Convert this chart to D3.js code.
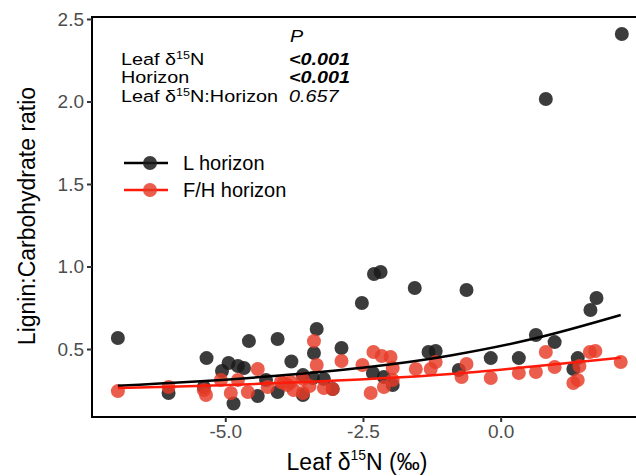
<!DOCTYPE html>
<html>
<head>
<meta charset="utf-8">
<script src="https://cdn.jsdelivr.net/npm/d3@7"></script>
<style>
  body { margin: 0; background: #fff; }
  text { font-family: "Liberation Sans", Arial, sans-serif; }
</style>
</head>
<body>
<svg width="636" height="476"></svg>
<script>
// L horizon (black) points: leaf d15N, ratio
const lX = [-6.95, 2.20, 0.82, -2.52, -2.30, -2.18, -1.56, -0.62, 1.74, 1.63, -4.57, -4.05, -3.34, -2.89, -3.39,
  -5.34, -4.94, -4.77, -4.66, -5.06, -6.03, -5.39, -4.85, -4.41, -4.05, -4.26, -3.80, -3.59, -3.41, -3.21,
  -3.05, -2.32, -2.12, -1.96, -1.31, -1.18, -3.59, -0.76, -0.18, 0.33, 0.64, 0.98, 1.40, 1.32];
const lY = [0.567, 2.409, 2.015, 0.779, 0.955, 0.967, 0.870, 0.858, 0.809, 0.736, 0.548, 0.561, 0.621, 0.506, 0.476,
  0.445, 0.415, 0.397, 0.385, 0.367, 0.233, 0.270, 0.170, 0.215, 0.239, 0.312, 0.424, 0.342, 0.324, 0.318,
  0.258, 0.355, 0.330, 0.282, 0.482, 0.488, 0.221, 0.373, 0.445, 0.445, 0.585, 0.542, 0.445, 0.379];

// F/H horizon (red) points
const fX = [-6.95, -6.03, -5.35, -5.39, -5.08, -4.77, -4.90, -4.59, -4.41, -4.23, -3.99, -3.87, -3.39, -3.34, -2.89,
  -2.51, -2.31, -2.16, -2.00, -1.96, -1.96, -2.12, -2.36, -1.54, -1.27, -1.18, -3.59, -3.81, -3.94, -3.76,
  -3.47, -3.21, -3.05, -3.59, 0.82, -0.62, -0.71, -0.18, 0.33, 0.64, 0.98, 1.43, 1.62, 1.72, 2.18, 1.32, 1.40];
const fY = [0.245, 0.270, 0.221, 0.252, 0.312, 0.312, 0.233, 0.239, 0.379, 0.270, 0.300, 0.282, 0.548, 0.403, 0.427,
  0.403, 0.482, 0.458, 0.452, 0.385, 0.312, 0.270, 0.233, 0.379, 0.379, 0.421, 0.318, 0.300, 0.294, 0.252,
  0.276, 0.264, 0.258, 0.233, 0.482, 0.409, 0.330, 0.324, 0.355, 0.361, 0.391, 0.397, 0.482, 0.488, 0.421, 0.294, 0.312];

// fitted curves
const fitX = [-6.95, -4.14, -0.91, 0.63, 2.18];
const fitL = [0.278, 0.336, 0.461, 0.565, 0.706];
const fitF = [0.264, 0.292, 0.348, 0.395, 0.447];

const xTicks = [-5, -2.5, 0];
const yTicks = [0.5, 1.0, 1.5, 2.0, 2.5];

const terms = ["Leaf δ", "Horizon", "Leaf δ"];
const pvals = ["<0.001", "<0.001", "0.657"];

const svg = d3.select("svg");
const x = d3.scaleLinear().domain([-7.42, 2.53]).range([92, 640]);
const y = d3.scaleLinear().domain([0.088, 2.512]).range([417, 17]);

const red = "#e63a26";
const dark = "#1a1a1a";
const fmt = d => d3.format(".1f")(d).replace("−", "-");

// panel border
svg.append("rect")
  .attr("x", 92).attr("y", 17).attr("width", 560).attr("height", 400)
  .attr("fill", "none").attr("stroke", "#000").attr("stroke-width", 2);

// axes
const yAxis = svg.append("g").attr("transform", "translate(92,0)")
  .call(d3.axisLeft(y).tickValues(yTicks).tickSize(5).tickFormat(fmt));
const xAxis = svg.append("g").attr("transform", "translate(0,417)")
  .call(d3.axisBottom(x).tickValues(xTicks).tickSize(5).tickFormat(fmt));
[yAxis, xAxis].forEach(a => {
  a.select(".domain").remove();
  a.selectAll(".tick line").attr("stroke", "#333").attr("stroke-width", 2);
  a.selectAll(".tick text").attr("fill", "#4d4d4d").style("font-size", "19px")
    .style("font-family", "Liberation Sans, Arial, sans-serif");
});
yAxis.selectAll(".tick text").attr("x", -8);
xAxis.selectAll(".tick text").attr("y", 8);

// points
svg.append("g").selectAll("circle")
  .data(d3.range(lX.length))
  .join("circle")
  .attr("cx", i => x(lX[i])).attr("cy", i => y(lY[i])).attr("r", 7)
  .attr("fill", dark).attr("fill-opacity", 0.85);

svg.append("g").selectAll("circle")
  .data(d3.range(fX.length))
  .join("circle")
  .attr("cx", i => x(fX[i])).attr("cy", i => y(fY[i])).attr("r", 7)
  .attr("fill", red).attr("fill-opacity", 0.82);

// fitted lines
const line = d3.line().curve(d3.curveMonotoneX);
svg.append("path")
  .attr("d", line(fitX.map((v, i) => [x(v), y(fitL[i])])))
  .attr("fill", "none").attr("stroke", "#000").attr("stroke-width", 2.5);
svg.append("path")
  .attr("d", line(fitX.map((v, i) => [x(v), y(fitF[i])])))
  .attr("fill", "none").attr("stroke", "#ff1a0a").attr("stroke-width", 2.5);

// stats table (text looks horizontally stretched in the original)
const sx = 1.2;
const tbl = svg.append("g")
  .attr("transform", `translate(121,0) scale(${sx},1)`)
  .style("font-size", "16.5px");
tbl.append("text").attr("x", (290 - 121) / sx).attr("y", 42).style("font-style", "italic").text("P");
terms.forEach((t, i) => {
  const ty = 65 + i * 18.5;
  const tx = tbl.append("text").attr("x", 0).attr("y", ty).text(t);
  if (i !== 1) {
    tx.append("tspan").attr("dy", -6).style("font-size", "10.5px").text("15");
    tx.append("tspan").attr("dy", 6).text(i === 0 ? "N" : "N:Horizon");
  }
  tbl.append("text").attr("x", (289 - 121) / sx).attr("y", ty)
    .style("font-style", "italic")
    .style("font-weight", i < 2 ? "bold" : "normal")
    .text(pvals[i]);
});

// legend
const legend = [["L horizon", "#000", dark, 0.85], ["F/H horizon", "#ff1a0a", red, 0.82]];
const lg = svg.append("g");
legend.forEach((d, i) => {
  const ly = 163 + i * 27;
  lg.append("line").attr("x1", 124).attr("x2", 168).attr("y1", ly).attr("y2", ly)
    .attr("stroke", d[1]).attr("stroke-width", 2.5);
  lg.append("circle").attr("cx", 150).attr("cy", ly).attr("r", 7)
    .attr("fill", d[2]).attr("fill-opacity", d[3]);
  lg.append("text").attr("x", 183).attr("y", ly + 7).style("font-size", "20px").text(d[0]);
});

// axis titles
const xt = svg.append("text").attr("x", 357).attr("y", 470)
  .attr("text-anchor", "middle").style("font-size", "23px").text("Leaf δ");
xt.append("tspan").attr("dy", -10).style("font-size", "14px").text("15");
xt.append("tspan").attr("dy", 10).text("N (‰)");

svg.append("text")
  .attr("transform", "translate(35,216) rotate(-90)")
  .attr("text-anchor", "middle").style("font-size", "23px")
  .text("Lignin:Carbohydrate ratio");
</script>
</body>
</html>
